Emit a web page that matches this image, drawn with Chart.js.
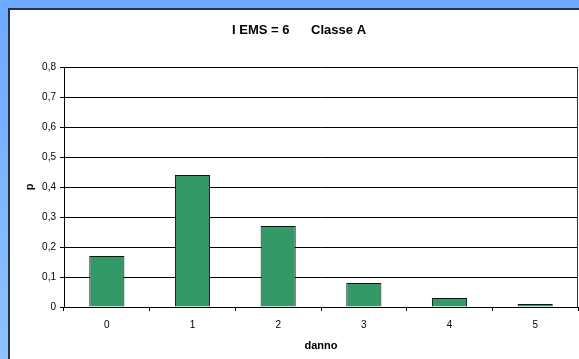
<!DOCTYPE html>
<html>
<head>
<meta charset="utf-8">
<script src="https://cdn.jsdelivr.net/npm/chart.js@4/dist/chart.umd.min.js"></script>
<style>
  html, body { margin: 0; padding: 0; }
  body {
    width: 579px; height: 359px; overflow: hidden; position: relative;
    background: linear-gradient(to bottom, #6ea8ff, #8ec2ff);
  }
  #panel {
    position: absolute; left: 8px; top: 8px; width: 600px; height: 400px;
    background: #ffffff; border-left: 2px solid #2b2f36; border-top: 2px solid #2b2f36;
    box-sizing: border-box;
  }
  #wrap { position: absolute; left: 0; top: 0; width: 579px; height: 359px; }
</style>
</head>
<body>
<div id="panel"></div>
<div id="wrap"><canvas id="chart" width="579" height="359"></canvas></div>
<script>
// Damage grade distribution
const categories = ['0', '1', '2', '3', '4', '5'];
const probabilities = [0.17, 0.44, 0.27, 0.08, 0.03, 0.01];
const yTickLabels = ['0', '0,1', '0,2', '0,3', '0,4', '0,5', '0,6', '0,7', '0,8'];
const chartTitle = 'I EMS = 6      Classe A';
const xTitle = 'danno';
const yTitle = 'p';

const FONT = 'Arial, "Liberation Sans", sans-serif';

// right-hand frame of the plot area
const plotFrame = {
  id: 'plotFrame',
  afterDraw(chart) {
    const { ctx, chartArea: a } = chart;
    ctx.save();
    ctx.strokeStyle = '#333333';
    ctx.lineWidth = 1;
    ctx.beginPath();
    ctx.moveTo(a.right - 0.5, a.top);
    ctx.lineTo(a.right - 0.5, a.bottom);
    ctx.stroke();
    ctx.restore();
  }
};

new Chart(document.getElementById('chart'), {
  type: 'bar',
  data: {
    labels: categories,
    datasets: [{
      data: probabilities,
      backgroundColor: '#339966',
      borderColor: '#111111',
      borderWidth: 1,
      barPercentage: 0.41,
      categoryPercentage: 1.0
    }]
  },
  options: {
    responsive: false,
    animation: false,
    devicePixelRatio: 1,
    layout: { padding: { left: 20, top: 8, right: 1, bottom: 0 } },
    plugins: {
      legend: { display: false },
      tooltip: { enabled: false },
      title: {
        display: true,
        text: chartTitle,
        color: '#000',
        font: { family: FONT, size: 13, weight: 'bold' },
        padding: { top: 15, bottom: 28.4 }
      }
    },
    scales: {
      x: {
        grid: { display: true, drawOnChartArea: false, offset: true, color: '#000', tickLength: 4 },
        border: { display: true, color: '#000', width: 1 },
        ticks: { color: '#000', font: { family: FONT, size: 10 }, padding: 8, maxRotation: 0 },
        title: { display: true, text: xTitle, color: '#000', font: { family: FONT, size: 11, weight: 'bold' }, padding: { top: 0, bottom: 6 } },
        afterFit(scale) { scale.height = 52; }
      },
      y: {
        min: 0, max: 0.8,
        ticks: {
          stepSize: 0.1, color: '#000', padding: 4,
          font: { family: FONT, size: 10 },
          callback: (v, i) => yTickLabels[i]
        },
        grid: { color: '#000', lineWidth: 1, tickLength: 4 },
        border: { display: true, color: '#000', width: 1 },
        title: { display: true, text: yTitle, color: '#000', font: { family: FONT, size: 11, weight: 'bold' }, padding: { top: 3, bottom: 0 } },
        afterFit(scale) { scale.width = 44; }
      }
    }
  },
  plugins: [plotFrame]
});
</script>
</body>
</html>
